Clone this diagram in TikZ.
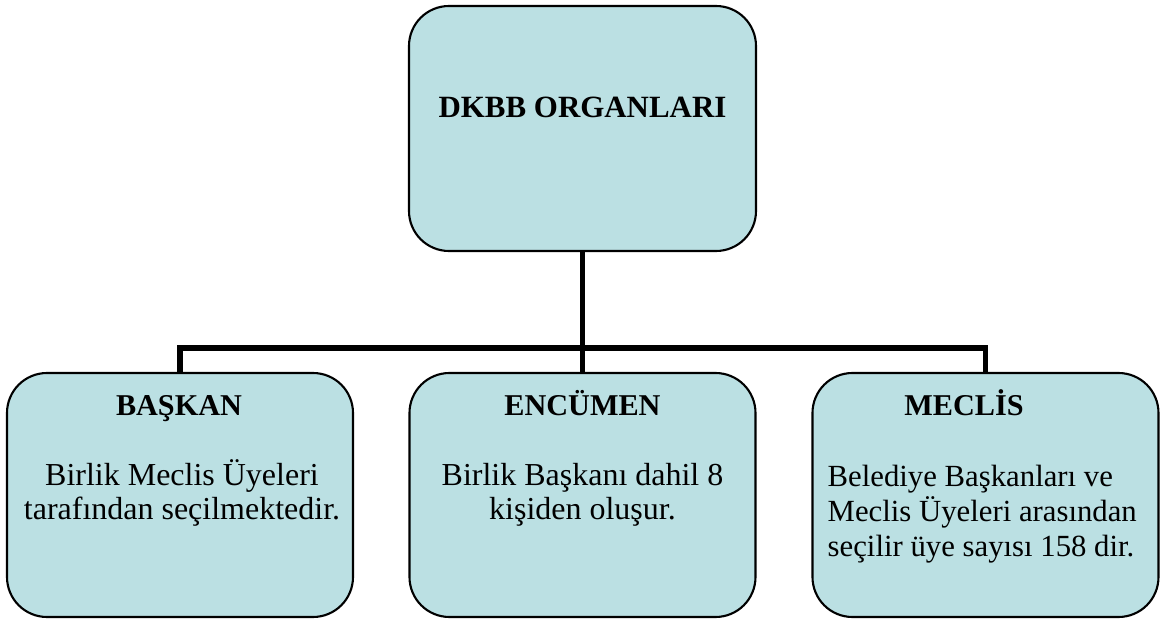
\documentclass[tikz,border=0pt]{standalone}
\usepackage{fontspec}
\setmainfont{Liberation Serif}
\usepackage{tikz}
\usetikzlibrary{calc}
\usepackage{xcolor}
\definecolor{boxblue}{RGB}{187,224,227}

\begin{document}
\begin{tikzpicture}
	    \tikzstyle{box}=[draw, rounded corners=0.4cm, fill=boxblue, line width=0.6pt, inner sep=0, minimum width=3.46cm]
	    \tikzstyle{edge}=[draw,line width = 1.5pt,-,black!100]
	    \tikzstyle{head}=[anchor=base, inner sep=0, font=\fontsize{8.6}{9.67}\selectfont\bfseries]
	    \tikzstyle{body}=[anchor=base, inner sep=0, font=\fontsize{9.1}{9.67}\selectfont]
	    \useasboundingbox (0,0) rectangle (11.65,6.2);
	    \node[box, minimum width=3.47cm, minimum height=2.45cm] (0) at (5.825,4.915) {};
	    \node[box, minimum height=2.44cm] (1) at (1.80,1.25) {};
	    \node[box, minimum height=2.44cm] (2) at (5.825,1.25) {};
	    \node[box, minimum height=2.44cm] (3) at (9.855,1.25) {};
	    \coordinate (c) at (5.825,2.72);
	    \draw[edge] (0.south) -- (2.north);
	    \draw[edge] (1.north) |- (c) -| (3.north);
	    \node[head, font=\fontsize{8.8}{9.67}\selectfont\bfseries] (t0) at (5.825,5.02) {DKBB ORGANLARI};
	    \node[head] (h1) at (1.79,2.045) {BAŞKAN};
	    \node[head] (h2) at (5.825,2.045) {ENCÜMEN};
	    \node[head] (h3) at (9.64,2.045) {MECLİS};
	    \node[body, align=center] (b1) at (1.82,1.01) {Birlik Meclis Üyeleri\\tarafından seçilmektedir.};
	    \node[body, align=center] (b2) at (5.825,1.01) {Birlik Başkanı dahil 8\\kişiden oluşur.};
	    \node[body, align=left, anchor=base west, font=\fontsize{8.75}{9.96}\selectfont] (b3) at (8.27,0.63) {Belediye Başkanları ve\\Meclis Üyeleri arasından\\seçilir üye sayısı 158 dir.};
	\end{tikzpicture}
\end{document}
